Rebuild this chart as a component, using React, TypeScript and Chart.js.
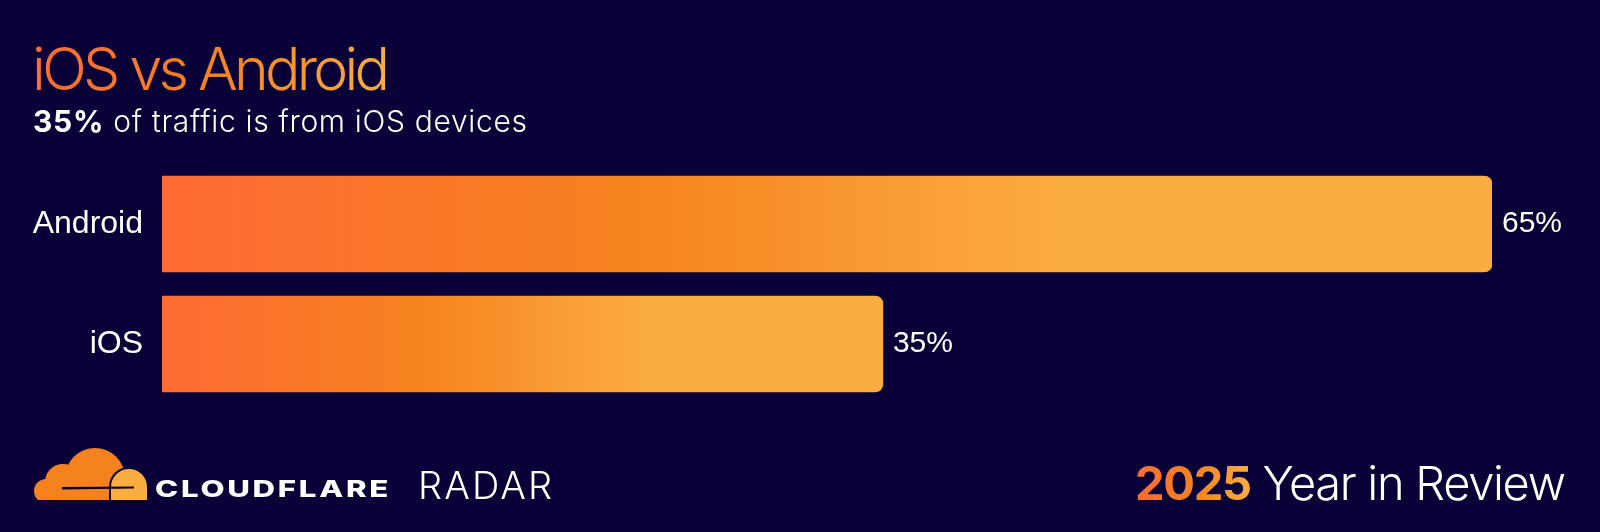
import React, { useEffect, useRef } from 'react';
import { Chart, registerables } from 'chart.js';

Chart.register(...registerables);

// ---- data ----
const categories = ['Android', 'iOS'];
const shares = [64.85, 35.15];
const shareLabels = ['65%', '35%'];

const titleText = 'iOS vs Android';
const subtitleBold = '35%';
const subtitleRest = ' of traffic is from iOS devices';
const brandText = 'CLOUDFLARE';
const radarText = 'RADAR';
const footerYear = '2025';
const footerRest = ' Year in Review';

// ---- styles ----
const BG = '#080036';
const C1 = '#FF6B35';
const C2 = '#F6821F';
const C3 = '#FBAD41';

function setSpacing(ctx: CanvasRenderingContext2D, px: number) {
  (ctx as any).letterSpacing = px + 'px';
}

function spacingToFit(ctx: CanvasRenderingContext2D, parts: { text: string; font: string }[], target: number) {
  setSpacing(ctx, 0);
  let w = 0;
  let n = 0;
  for (const p of parts) {
    ctx.font = p.font;
    w += ctx.measureText(p.text).width;
    n += p.text.length;
  }
  return (target - w) / Math.max(1, n - 1);
}

const decor = {
  id: 'decor',
  beforeDraw(chart: any) {
    const ctx: CanvasRenderingContext2D = chart.ctx;
    ctx.save();
    ctx.fillStyle = BG;
    ctx.fillRect(0, 0, chart.width, chart.height);
    ctx.textAlign = 'left';
    ctx.textBaseline = 'alphabetic';

    // title
    const tFont = '300 59px Inter';
    const tSp = spacingToFit(ctx, [{ text: titleText, font: tFont }], 358);
    ctx.font = tFont;
    setSpacing(ctx, tSp);
    const tg = ctx.createLinearGradient(34, 0, 390, 0);
    tg.addColorStop(0, C1);
    tg.addColorStop(0.5, C2);
    tg.addColorStop(1, C3);
    ctx.fillStyle = tg;
    ctx.fillText(titleText, 32, 90);

    // subtitle
    const sbFont = '700 30px Inter';
    const srFont = '300 30px Inter';
    const sSp = spacingToFit(ctx, [{ text: subtitleBold, font: sbFont }, { text: subtitleRest, font: srFont }], 494);
    ctx.fillStyle = '#ffffff';
    setSpacing(ctx, sSp);
    ctx.font = sbFont;
    ctx.fillText(subtitleBold, 33, 132);
    const bw = ctx.measureText(subtitleBold).width;
    ctx.font = srFont;
    ctx.fillText(subtitleRest, 33 + bw, 132);

    // cloud logo
    ctx.save();
    ctx.beginPath();
    ctx.rect(0, 0, 1600, 500);
    ctx.clip();
    ctx.fillStyle = C2;
    ctx.beginPath();
    ctx.arc(63, 482, 18, 0, Math.PI * 2);
    ctx.fill();
    ctx.beginPath();
    ctx.arc(95, 478, 30, 0, Math.PI * 2);
    ctx.fill();
    ctx.beginPath();
    ctx.arc(46, 491, 12, 0, Math.PI * 2);
    ctx.fill();
    ctx.fillRect(46, 486, 70, 14);
    // gap + light cloud
    ctx.beginPath();
    ctx.arc(129, 487, 18, Math.PI, Math.PI * 2);
    ctx.lineTo(147, 501);
    ctx.lineTo(111, 501);
    ctx.closePath();
    ctx.lineWidth = 4;
    ctx.strokeStyle = BG;
    ctx.stroke();
    ctx.fillStyle = C3;
    ctx.fill();
    // swoosh
    ctx.beginPath();
    ctx.moveTo(62, 487);
    ctx.lineTo(134, 486.5);
    ctx.lineTo(134, 488.5);
    ctx.lineTo(62, 489.5);
    ctx.closePath();
    ctx.fillStyle = BG;
    ctx.fill();
    ctx.restore();

    // CLOUDFLARE
    ctx.save();
    const cFont = '800 23px Inter';
    ctx.font = cFont;
    setSpacing(ctx, 2);
    const cw = ctx.measureText(brandText).width;
    const sx = 236 / cw;
    ctx.translate(155, 497);
    ctx.scale(sx, 1);
    ctx.fillStyle = '#ffffff';
    ctx.fillText(brandText, 0, 0);
    ctx.restore();

    // RADAR
    const rFont = '300 38px Inter';
    const rSp = spacingToFit(ctx, [{ text: radarText, font: rFont }], 134);
    ctx.font = rFont;
    setSpacing(ctx, rSp);
    ctx.fillStyle = '#ffffff';
    ctx.fillText(radarText, 418, 499);

    // 2025 Year in Review
    const yFont = '700 47px Inter';
    const ryFont = '300 47px Inter';
    const ySp = spacingToFit(ctx, [{ text: footerYear, font: yFont }, { text: footerRest, font: ryFont }], 431);
    setSpacing(ctx, ySp);
    ctx.font = yFont;
    const yg = ctx.createLinearGradient(1136, 0, 1252, 0);
    yg.addColorStop(0, C1);
    yg.addColorStop(0.5, C2);
    yg.addColorStop(1, C3);
    ctx.fillStyle = yg;
    ctx.fillText(footerYear, 1135, 500);
    const yw = ctx.measureText(footerYear).width;
    ctx.font = ryFont;
    ctx.fillStyle = '#ffffff';
    ctx.fillText(footerRest, 1135 + yw, 500);

    setSpacing(ctx, 0);
    ctx.restore();
  },
};

const valueLabels = {
  id: 'valueLabels',
  afterDatasetsDraw(chart: any) {
    const ctx: CanvasRenderingContext2D = chart.ctx;
    const meta = chart.getDatasetMeta(0);
    ctx.save();
    ctx.font = '30px "Liberation Sans", Arial, sans-serif';
    ctx.fillStyle = '#ffffff';
    ctx.textAlign = 'left';
    ctx.textBaseline = 'middle';
    meta.data.forEach((bar: any, i: number) => {
      ctx.fillText(shareLabels[i], bar.x + 10, bar.y);
    });
    ctx.restore();
  },
};

function barGradient(c: any) {
  const chart = c.chart;
  const area = chart.chartArea;
  const xs = chart.scales && chart.scales.x;
  if (!area || !xs || typeof c.raw !== 'number') return C2;
  const start = xs.getPixelForValue(0);
  const end = xs.getPixelForValue(c.raw);
  const g = chart.ctx.createLinearGradient(start, 0, end, 0);
  g.addColorStop(0, C1);
  g.addColorStop(0.35, C2);
  g.addColorStop(0.68, C3);
  g.addColorStop(1, C3);
  return g;
}

export default function App() {
  const ref = useRef<HTMLCanvasElement | null>(null);

  useEffect(() => {
    document.body.style.margin = '0';
    document.body.style.background = BG;
    const canvas = ref.current;
    if (!canvas) return;
    const chart = new Chart(canvas, {
      type: 'bar',
      data: {
        labels: categories,
        datasets: [
          {
            data: shares,
            backgroundColor: barGradient as any,
            barThickness: 96,
            borderRadius: 8,
            borderSkipped: 'start',
          },
        ],
      },
      options: {
        indexAxis: 'y',
        responsive: false,
        animation: false,
        devicePixelRatio: 1,
        layout: { padding: { left: 0, right: 108, top: 164, bottom: 128 } },
        plugins: {
          legend: { display: false },
          tooltip: { enabled: false },
          title: { display: false },
        },
        scales: {
          x: {
            display: false,
            min: 0,
            max: Math.max(...shares),
            grid: { display: false },
          },
          y: {
            position: 'left',
            grid: { display: false, drawTicks: false },
            border: { display: false },
            ticks: {
              color: '#ffffff',
              padding: 19,
              font: { family: '"Liberation Sans", Arial, sans-serif', size: 32 },
            },
            afterFit: (scale: any) => {
              scale.width = 162;
            },
          },
        },
      },
      plugins: [decor, valueLabels],
    });
    return () => chart.destroy();
  }, []);

  return (
    <div style={{ width: 1600, height: 532, background: BG }}>
      <canvas ref={ref} width={1600} height={532} style={{ display: 'block' }} />
    </div>
  );
}
